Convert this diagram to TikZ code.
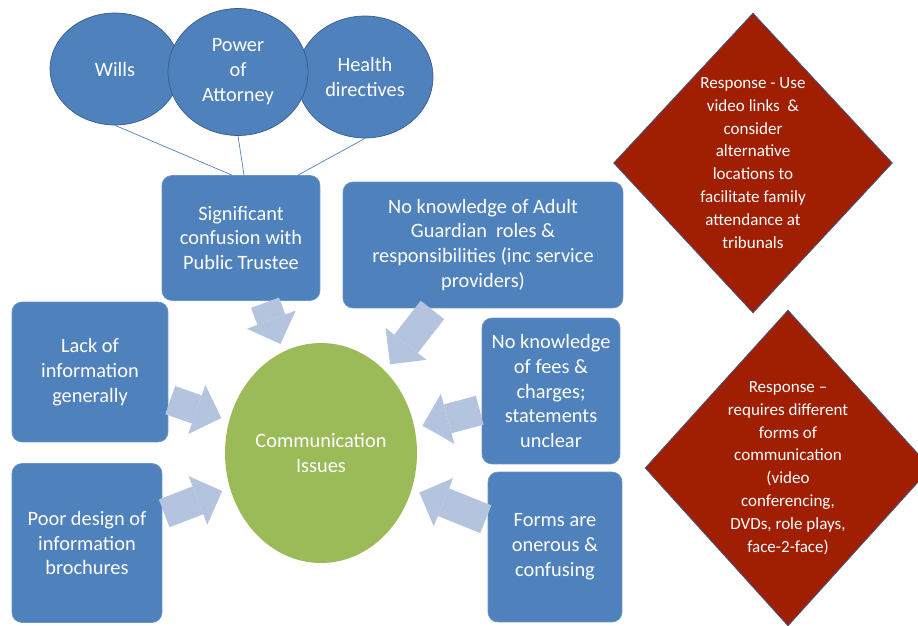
\documentclass[tikz,border=0pt]{standalone}
\usepackage{fontspec}
\setmainfont{Carlito}
\usepackage{xcolor}
\usepackage{tikz}
\usetikzlibrary{shapes.geometric,arrows.meta}

\definecolor{boxblue}{RGB}{79,129,189}
\definecolor{edgeblue}{RGB}{56,93,138}
\definecolor{arrowblue}{RGB}{180,196,223}
\definecolor{issuegreen}{RGB}{155,187,89}
\definecolor{responsered}{RGB}{160,30,2}

\begin{document}
\begin{tikzpicture}[x=0.02cm, y=-0.02cm,
		txt/.style={text=white, align=center, font=\fontsize{11.6}{14.2}\selectfont},
		topic/.style={txt, ellipse, fill=boxblue, draw=edgeblue, thin, inner sep=0pt},
		issue/.style={txt, rectangle, rounded corners=0.2cm, fill=boxblue, draw=boxblue!85!white, thin, inner sep=0pt},
		response/.style={diamond, fill=responsered, draw=edgeblue, thin, inner sep=0pt},
		resptext/.style={text=white, align=center, font=\fontsize{9.7}{13}\selectfont},
		link/.style={draw=boxblue, thin},
		blockarrow/.style={draw=arrowblue, line width=17pt, -{Triangle[width=1.04cm, length=0.52cm, line width=0pt]}, shorten <=0.04cm, shorten >=0.16cm}]
			\useasboundingbox (0,0) rectangle (918,625);
			% legal documents
			\node[topic, minimum width=2.6cm, minimum height=2.24cm] (wills) at (115,69) {Wills};
			\node[topic, minimum width=2.72cm, minimum height=2.44cm] (health) at (365,77) {Health\\directives};
			\node[topic, minimum width=2.8cm, minimum height=2.54cm] (attorney) at (238,72) {Power\\of\\Attorney};
			% issues
			\node[issue, minimum width=3.16cm, minimum height=2.5cm] (trustee) at (241,238) {Significant\\confusion with\\Public Trustee};
			\node[issue, minimum width=5.6cm, minimum height=2.52cm] (guardian) at (483,245) {No knowledge of Adult\\Guardian \ roles \&\\responsibilities (inc service\\providers)};
			\node[issue, minimum width=3.12cm, minimum height=2.8cm] (lackinfo) at (90,372) {Lack of\\information\\generally};
			\node[issue, minimum width=3.0cm, minimum height=3.18cm] (brochures) at (87,543) {Poor design of\\information\\brochures};
			\node[issue, minimum width=2.76cm, minimum height=2.92cm] (fees) at (551,391) {No knowledge\\of fees \&\\charges;\\statements\\unclear};
			\node[issue, minimum width=2.68cm, minimum height=3.0cm] (forms) at (555,547) {Forms are\\onerous \&\\confusing};
			\node[txt, ellipse, fill=issuegreen, inner sep=0pt, minimum width=3.84cm, minimum height=4.4cm] (comm) at (321,453) {Communication\\Issues};
			% responses
			\node[response, minimum width=5.58cm, minimum height=6.0cm] (resp1) at (753,163) {};
			\node[resptext] (resp1text) at (resp1.center) {Response - Use\\video links \ \&\\consider\\alternative\\locations to\\facilitate family\\attendance at\\tribunals};
			\node[response, minimum width=5.72cm, minimum height=6.32cm] (resp2) at (788,468) {};
			\node[resptext] (resp2text) at (resp2.center) {Response --\\requires different\\forms of\\communication\\(video\\conferencing,\\DVDs, role plays,\\face-2-face)};
			% links to the trustee box
			\draw[link] (wills.south) -- ([xshift=-0.18cm]trustee.north);
			\draw[link] (attorney.south) -- ([xshift=0.06cm]trustee.north);
			\draw[link] (health.south) -- ([xshift=1.14cm]trustee.north);
			% block arrows
			\draw[blockarrow] (trustee) -- (comm);
			\draw[blockarrow] (guardian) -- (comm);
			\draw[blockarrow] (lackinfo) -- (comm);
			\draw[blockarrow] (brochures) -- (comm);
			\draw[blockarrow] (fees) -- (comm);
			\draw[blockarrow] (forms) -- (comm);
		\end{tikzpicture}
\end{document}
